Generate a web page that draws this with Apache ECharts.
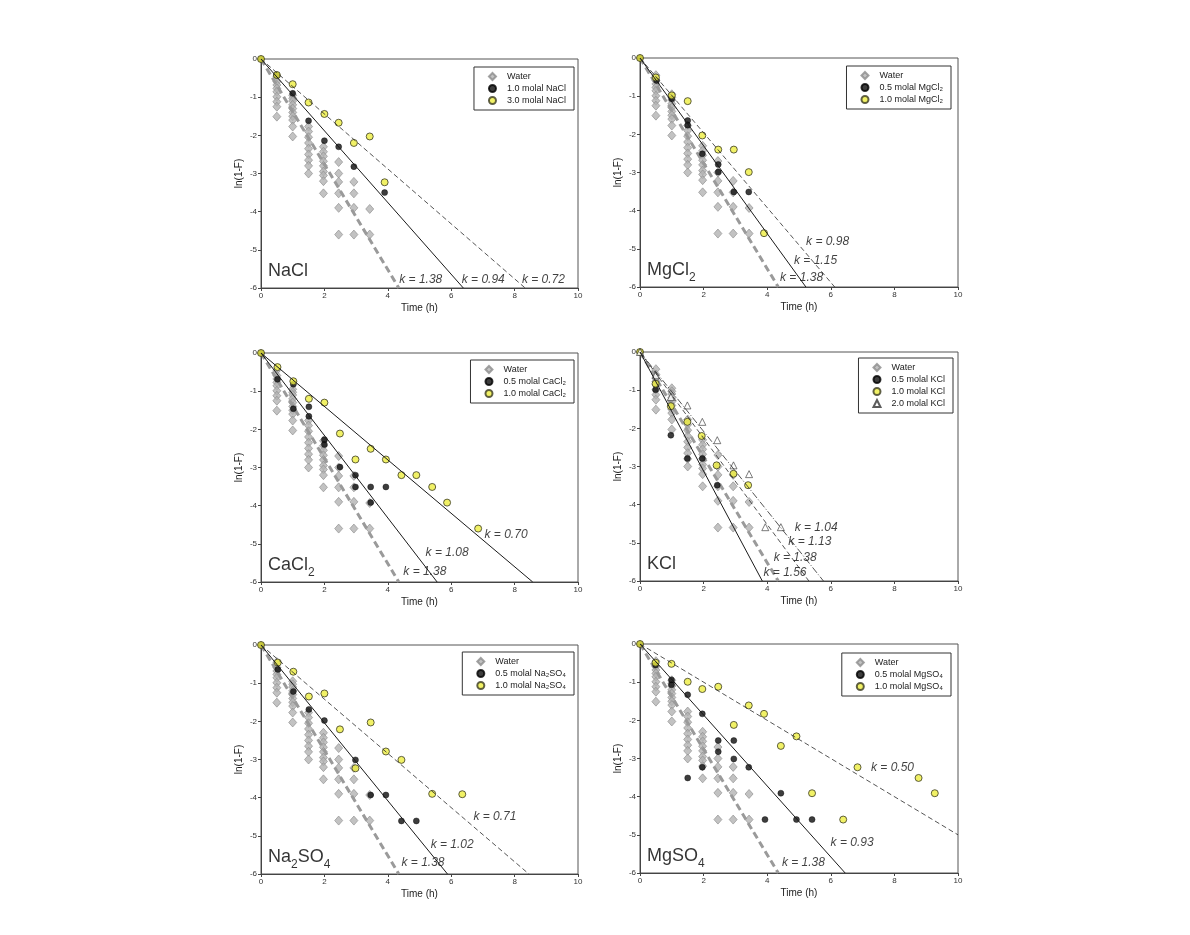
<!DOCTYPE html>
<html><head><meta charset="utf-8">
<script src="https://cdn.jsdelivr.net/npm/echarts@6/dist/echarts.min.js"></script>
<style>html,body{margin:0;padding:0;background:#fff}#c{width:1190px;height:935px}</style>
</head><body><div id="c"></div>
<script>
// ---------- axis ticks ----------
const timeTicks = [0, 2, 4, 6, 8, 10];
const lnTicks = [0, -1, -2, -3, -4, -5, -6];

// ---------- Water (same reference data in every panel) ----------
const waterT = [0.5,0.5,0.5,0.5,0.5,0.5,0.5,0.5,0.5,
  1,1,1,1,1,1,1,1,1,1,
  1.5,1.5,1.5,1.5,1.5,1.5,1.5,1.5,1.5,
  1.97,1.97,1.97,1.97,1.97,1.97,1.97,1.97,1.97,
  2.45,2.45,2.45,2.45,2.45,2.45,
  2.93,2.93,2.93,2.93,
  3.43,3.43];
const waterLn = [-0.45,-0.59,-0.68,-0.77,-0.86,-0.99,-1.12,-1.25,-1.51,
  -0.95,-1.03,-1.1,-1.2,-1.3,-1.4,-1.5,-1.6,-1.77,-2.03,
  -1.77,-1.9,-2.05,-2.2,-2.35,-2.5,-2.65,-2.8,-3.0,
  -2.3,-2.43,-2.55,-2.68,-2.8,-2.95,-3.05,-3.2,-3.52,
  -2.7,-3.0,-3.22,-3.52,-3.9,-4.6,
  -3.22,-3.52,-3.9,-4.6,
  -3.93,-4.6];
const kWater = 1.38;

// ---------- NaCl ----------
const nacl10T = [0,0.5,1,1.5,2,2.45,2.93,3.9];
const nacl10Ln = [0,-0.42,-0.9,-1.62,-2.14,-2.3,-2.82,-3.5];
const nacl30T = [0,0.5,1,1.5,2,2.45,2.93,3.43,3.9];
const nacl30Ln = [0,-0.42,-0.66,-1.14,-1.44,-1.67,-2.2,-2.03,-3.23];
const kNaCl = [0.94, 0.72];

// ---------- MgCl2 ----------
const mgcl05T = [0,0.52,1,1.5,1.5,1.96,2.46,2.46,2.95,3.42];
const mgcl05Ln = [0,-0.59,-1.07,-1.64,-1.76,-2.51,-2.79,-2.99,-3.51,-3.51];
const mgcl10T = [0,0.5,1,1.5,1.96,2.46,2.95,3.42,3.9];
const mgcl10Ln = [0,-0.51,-0.98,-1.13,-2.03,-2.4,-2.4,-2.99,-4.59];
const kMgCl = [1.15, 0.98];

// ---------- CaCl2 ----------
const cacl05T = [0,0.52,1.02,1.02,1.51,1.51,2,2,2.49,2.98,2.98,3.46,3.46,3.94];
const cacl05Ln = [0,-0.69,-0.82,-1.46,-1.41,-1.66,-2.27,-2.4,-2.99,-3.2,-3.51,-3.51,-3.92,-3.51];
const cacl10T = [0,0.52,1.02,1.51,2,2.49,2.98,3.46,3.94,4.43,4.9,5.4,5.87,6.85];
const cacl10Ln = [0,-0.37,-0.74,-1.2,-1.3,-2.11,-2.79,-2.51,-2.79,-3.2,-3.2,-3.51,-3.92,-4.6];
const kCaCl = [1.08, 0.70];

// ---------- KCl ----------
const kcl05T = [0,0.49,0.97,1.49,1.96,2.43];
const kcl05Ln = [0,-0.99,-2.18,-2.79,-2.79,-3.49];
const kcl10T = [0,0.49,0.97,1.49,1.94,2.41,2.94,3.4];
const kcl10Ln = [0,-0.83,-1.42,-1.83,-2.2,-2.97,-3.19,-3.49];
const kcl20T = [0,0.49,0.97,1.49,1.96,2.43,2.94,3.43,3.94,4.43];
const kcl20Ln = [0,-0.61,-1.18,-1.4,-1.83,-2.31,-2.97,-3.2,-4.59,-4.59];
const kKCl = [1.56, 1.13, 1.04];

// ---------- Na2SO4 ----------
const naso05T = [0,0.53,1.02,1.51,2,2.98,3.46,3.94,4.43,4.9];
const naso05Ln = [0,-0.64,-1.22,-1.69,-1.98,-3.01,-3.93,-3.93,-4.61,-4.61];
const naso10T = [0,0.53,1.02,1.51,2,2.49,2.98,3.46,3.94,4.43,5.4,6.35];
const naso10Ln = [0,-0.46,-0.7,-1.35,-1.27,-2.21,-3.23,-2.03,-2.79,-3.01,-3.9,-3.91];
const kNaSO = [1.02, 0.71];

// ---------- MgSO4 ----------
const mgso05T = [0,0.49,0.99,0.99,1.5,1.5,1.96,1.96,2.46,2.46,2.95,2.95,3.42,3.93,4.43,4.92,5.41];
const mgso05Ln = [0,-0.55,-0.94,-1.07,-1.33,-3.51,-1.83,-3.23,-2.53,-2.82,-2.53,-3.01,-3.23,-4.6,-3.91,-4.6,-4.6];
const mgso10T = [0,0.49,0.99,1.5,1.96,2.46,2.95,3.42,3.9,4.43,4.92,5.41,6.39,6.84,8.76,9.27];
const mgso10Ln = [0,-0.49,-0.52,-0.99,-1.18,-1.12,-2.12,-1.61,-1.83,-2.67,-2.42,-3.91,-4.6,-3.23,-3.51,-3.91];
const kMgSO = [0.93, 0.50];

// ---------- styles ----------
const FONT = '"Liberation Sans", Arial, sans-serif';
const ST = {
  water: {symbol:'diamond', symbolSize:[8,9], itemStyle:{color:'#b3b3b3', borderColor:'#8c8c8c', borderWidth:0.8}},
  black: {symbol:'circle', symbolSize:6, itemStyle:{color:'#0d0d0d', borderColor:'#000', borderWidth:0.5}},
  yellow:{symbol:'circle', symbolSize:7, itemStyle:{color:'#eeee40', borderColor:'#3a3a22', borderWidth:1}},
  tri:   {symbol:'triangle', symbolSize:7, itemStyle:{color:'#ffffff', borderColor:'#333', borderWidth:0.8}}
};
const LS = {
  water:  {color:'#9a9a9a', width:3, type:[7,4]},
  solid:  {color:'#1a1a1a', width:1, type:'solid'},
  dashed: {color:'#2a2a2a', width:0.8, type:[5,3]},
  dashdot:{color:'#2a2a2a', width:0.8, type:[7,2,1,2]}
};

const zip = (t, v) => t.map((x, i) => [x, v[i]]);
const fitLine = k => (k * 10 > 6 ? [[0, 0], [6 / k, -6]] : [[0, 0], [10, -10 * k]]);

const panels = [
  {title:'{b|NaCl}', tx:0.22,
   sets:[{name:'1.0 molal NaCl', t:nacl10T, v:nacl10Ln, st:'black'},
         {name:'3.0 molal NaCl', t:nacl30T, v:nacl30Ln, st:'yellow'}],
   fits:[[kNaCl[0],'solid'],[kNaCl[1],'dashed']],
   notes:[['k = 1.38',5.04,-5.79],['k = 0.94',7.01,-5.79],['k = 0.72',8.91,-5.79]]},
  {title:'{b|MgCl}{s|2}', tx:0.22,
   sets:[{name:'0.5 molal MgCl\u2082', t:mgcl05T, v:mgcl05Ln, st:'black'},
         {name:'1.0 molal MgCl\u2082', t:mgcl10T, v:mgcl10Ln, st:'yellow'}],
   fits:[[kMgCl[0],'solid'],[kMgCl[1],'dashed']],
   notes:[['k = 0.98',5.9,-4.81],['k = 1.15',5.52,-5.31],['k = 1.38',5.08,-5.75]]},
  {title:'{b|CaCl}{s|2}', tx:0.22,
   sets:[{name:'0.5 molal CaCl\u2082', t:cacl05T, v:cacl05Ln, st:'black'},
         {name:'1.0 molal CaCl\u2082', t:cacl10T, v:cacl10Ln, st:'yellow'}],
   fits:[[kCaCl[0],'solid'],[kCaCl[1],'solid']],
   notes:[['k = 0.70',7.73,-4.75],['k = 1.08',5.87,-5.24],['k = 1.38',5.17,-5.74]]},
  {title:'{b|KCl}', tx:0.22,
   sets:[{name:'0.5 molal KCl', t:kcl05T, v:kcl05Ln, st:'black'},
         {name:'1.0 molal KCl', t:kcl10T, v:kcl10Ln, st:'yellow'},
         {name:'2.0 molal KCl', t:kcl20T, v:kcl20Ln, st:'tri'}],
   fits:[[kKCl[0],'solid'],[kKCl[1],'dashed'],[kKCl[2],'dashdot']],
   notes:[['k = 1.04',5.54,-4.59],['k = 1.13',5.34,-4.98],['k = 1.38',4.88,-5.40],['k = 1.56',4.56,-5.79]]},
  {title:'{b|Na}{s|2}{b|SO}{s|4}', tx:0.22,
   sets:[{name:'0.5 molal Na\u2082SO\u2084', t:naso05T, v:naso05Ln, st:'black'},
         {name:'1.0 molal Na\u2082SO\u2084', t:naso10T, v:naso10Ln, st:'yellow'}],
   fits:[[kNaSO[0],'solid'],[kNaSO[1],'dashed']],
   notes:[['k = 0.71',7.38,-4.49],['k = 1.02',6.03,-5.22],['k = 1.38',5.11,-5.71]]},
  {title:'{b|MgSO}{s|4}', tx:0.22,
   sets:[{name:'0.5 molal MgSO\u2084', t:mgso05T, v:mgso05Ln, st:'black'},
         {name:'1.0 molal MgSO\u2084', t:mgso10T, v:mgso10Ln, st:'yellow'}],
   fits:[[kMgSO[0],'solid'],[kMgSO[1],'dashed']],
   notes:[['k = 0.50',7.94,-3.25],['k = 0.93',6.67,-5.21],['k = 1.38',5.14,-5.73]]}
];

const grids = [
  {left:261, top:59, width:317, height:229},
  {left:640, top:58, width:318, height:229},
  {left:261, top:353, width:317, height:229},
  {left:640, top:352, width:318, height:229},
  {left:261, top:645, width:317, height:229},
  {left:640, top:644, width:318, height:229}
];
const legendPos = [
  {right:616, top:67}, {right:239, top:66},
  {right:616, top:360}, {right:237, top:358},
  {right:616, top:652}, {right:239, top:653}
];

const xAxes = [], yAxes = [], series = [], legends = [];
panels.forEach((p, i) => {
  xAxes.push({gridIndex:i, type:'value', min:timeTicks[0], max:timeTicks[timeTicks.length-1], interval:2,
    name:'Time (h)', nameLocation:'middle', nameGap:15,
    nameTextStyle:{fontSize:10, color:'#222', fontFamily:FONT},
    axisLine:{show:true, onZero:false, lineStyle:{color:'#444', width:1}},
    axisTick:{show:true, length:3, lineStyle:{color:'#444'}},
    axisLabel:{fontSize:8, color:'#333', margin:4, fontFamily:FONT},
    splitLine:{show:false}});
  yAxes.push({gridIndex:i, type:'value', min:lnTicks[lnTicks.length-1], max:lnTicks[0], interval:1,
    name:'ln(1-F)', nameLocation:'middle', nameGap:17, nameRotate:90,
    nameTextStyle:{fontSize:10, color:'#222', fontFamily:FONT},
    axisLine:{show:true, onZero:false, lineStyle:{color:'#444', width:1}},
    axisTick:{show:true, length:3, lineStyle:{color:'#444'}},
    axisLabel:{fontSize:8, color:'#333', margin:4, fontFamily:FONT},
    splitLine:{show:false}});

  series.push(Object.assign({type:'scatter', name:'Water', xAxisIndex:i, yAxisIndex:i,
    data:zip(waterT, waterLn), z:2, silent:true}, ST.water));
  p.sets.forEach(s => {
    series.push(Object.assign({type:'scatter', name:s.name, xAxisIndex:i, yAxisIndex:i,
      data:zip(s.t, s.v), z:4, silent:true}, ST[s.st]));
  });
  series.push({type:'line', name:'fit-w-'+i, xAxisIndex:i, yAxisIndex:i, data:fitLine(kWater),
    symbol:'none', lineStyle:LS.water, z:3, silent:true});
  p.fits.forEach(([k, st], j) => {
    series.push({type:'line', name:'fit-'+i+'-'+j, xAxisIndex:i, yAxisIndex:i, data:fitLine(k),
      symbol:'none', lineStyle:LS[st], z:5, silent:true});
  });
  // annotations
  series.push({type:'scatter', name:'note-'+i, xAxisIndex:i, yAxisIndex:i, symbolSize:0, silent:true, z:6,
    data:p.notes.map(n => ({value:[n[1], n[2]], label:{formatter:n[0]}})),
    label:{show:true, position:'inside', fontSize:12, fontStyle:'italic', color:'#111', fontFamily:FONT}});
  series.push({type:'scatter', name:'title-'+i, xAxisIndex:i, yAxisIndex:i, symbolSize:0, silent:true, z:6,
    data:[{value:[p.tx, -5.62]}],
    label:{show:true, position:'right', distance:0, formatter:p.title,
      rich:{b:{fontSize:18, lineHeight:22, verticalAlign:'top', color:'#000', fontFamily:FONT},
            s:{fontSize:12, lineHeight:12, verticalAlign:'bottom', color:'#000', fontFamily:FONT}}}});

  legends.push(Object.assign({orient:'vertical', data:['Water'].concat(p.sets.map(s => s.name)),
    itemWidth:7, itemHeight:7, itemGap:3, padding:[5,8,5,14], symbolKeepAspect:true,
    borderColor:'#333', borderWidth:1, backgroundColor:'#fff', selectedMode:false,
    textStyle:{fontSize:9, color:'#222', fontFamily:FONT, padding:[0,0,0,6]}}, legendPos[i]));
});

const chart = echarts.init(document.getElementById('c'), null, {renderer:'canvas'});
chart.setOption({
  backgroundColor:'#ffffff',
  animation:false,
  grid:grids.map(g => Object.assign({show:true, borderColor:'#555', borderWidth:1, backgroundColor:'transparent'}, g)),
  xAxis:xAxes, yAxis:yAxes, legend:legends, series:series
});
</script></body></html>
